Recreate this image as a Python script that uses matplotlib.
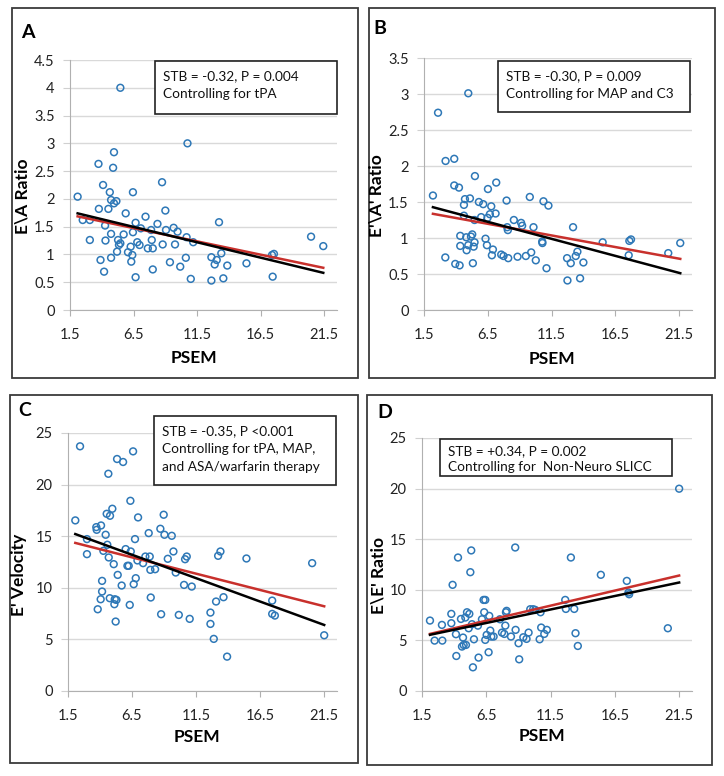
import numpy as np
import matplotlib.pyplot as plt
from matplotlib.patches import Rectangle

plt.rcParams['font.family'] = ['Lato', 'DejaVu Sans']

W, H = 724, 776

# ---- data ----
# A: E\A ratio
psem_a = [2.1, 2.5, 3.06, 3.06, 3.74, 3.77, 3.9, 4.1, 4.18, 4.26, 4.29, 4.52, 4.63, 4.73,
          4.73, 4.73, 4.89, 4.96, 4.96, 5.15, 5.2, 5.28, 5.35, 5.46, 5.46, 5.72, 5.88, 6.06,
          6.27, 6.32, 6.4, 6.45, 6.45, 6.66, 6.66, 6.79, 6.97, 7.07, 7.44, 7.62, 7.88, 7.93,
          8.01, 8.01, 8.38, 8.74, 8.79, 9.0, 9.05, 9.36, 9.65, 9.76, 9.96, 10.17, 10.61,
          10.67, 10.74, 11.0, 11.19, 12.62, 12.62, 12.88, 13.04, 13.22, 13.4, 13.56, 13.87,
          15.38, 17.39, 17.54, 17.44, 20.46, 21.42]
ea_ratio = [2.04, 1.62, 1.62, 1.26, 2.63, 1.82, 0.90, 2.25, 0.69, 1.52, 1.25, 1.82, 2.12, 1.98,
            1.37, 0.94, 2.56, 2.84, 1.92, 1.96, 1.05, 1.26, 1.17, 4.0, 1.2, 1.36, 1.74, 1.04,
            1.14, 0.87, 0.99, 2.12, 1.40, 1.57, 0.59, 1.22, 1.17, 1.47, 1.68, 1.11, 1.44, 1.26,
            1.11, 0.73, 1.55, 2.30, 1.18, 1.79, 1.44, 0.86, 1.48, 1.18, 1.41, 0.78, 0.94,
            1.31, 3.0, 0.56, 1.22, 0.95, 0.53, 0.82, 0.90, 1.58, 1.02, 0.57, 0.80,
            0.84, 0.99, 1.01, 0.60, 1.32, 1.15]

# B: E'\A' ratio
psem_b = [2.2, 2.6, 3.17, 3.19, 3.87, 3.87, 3.95, 4.24, 4.29, 4.34, 4.34, 4.63, 4.63, 4.71,
          4.81, 4.84, 4.97, 4.97, 5.1, 5.18, 5.28, 5.33, 5.39, 5.46, 5.46, 5.49, 5.8, 5.98,
          6.14, 6.32, 6.43, 6.48, 6.51, 6.66, 6.77, 6.82, 6.9, 7.11, 7.16, 7.55, 7.73, 7.97,
          8.02, 8.07, 8.1, 8.54, 8.83, 9.11, 9.19, 9.48, 9.79, 9.9, 10.08, 10.26, 10.76,
          10.78, 10.86, 11.1, 11.25, 12.71, 12.74, 13.0, 13.18, 13.39, 13.52, 13.73, 13.99,
          15.5, 17.54, 17.59, 17.72, 20.64, 21.58]
eaa_ratio = [1.59, 2.74, 0.73, 2.07, 2.10, 1.73, 0.64, 1.70, 0.62, 1.03, 0.89, 1.31, 1.46, 1.54,
             1.01, 0.83, 3.01, 0.90, 1.55, 1.02, 1.05, 0.65, 0.88, 0.94, 1.25, 1.86, 1.50, 1.29,
             1.47, 0.99, 0.90, 1.28, 1.68, 1.33, 1.44, 0.76, 0.84, 1.34, 1.77, 0.77, 0.75, 1.52,
             1.15, 1.11, 0.72, 1.25, 0.74, 1.21, 1.17, 0.75, 1.57, 0.80, 1.15, 0.69, 0.95,
             0.93, 1.51, 0.58, 1.45, 0.72, 0.41, 0.65, 1.15, 0.75, 0.81, 0.44, 0.66,
             0.94, 0.76, 0.96, 0.98, 0.79, 0.93]

# C: E' velocity
psem_c = [2.07, 2.44, 2.98, 2.98, 3.71, 3.74, 3.82, 4.08, 4.16, 4.16, 4.05, 4.26, 4.44, 4.52,
          4.57, 4.65, 4.68, 4.76, 4.78, 4.96, 5.07, 5.12, 5.15, 5.22, 5.28, 5.33, 5.38, 5.69,
          5.8, 6.0, 6.14, 6.24, 6.32, 6.37, 6.4, 6.58, 6.63, 6.73, 6.79, 6.92, 6.97, 7.36,
          7.54, 7.8, 7.88, 7.93, 7.96, 8.3, 8.71, 8.77, 8.97, 9.03, 9.29, 9.6, 9.73, 9.91,
          10.15, 10.56, 10.64, 10.77, 11.0, 11.16, 12.62, 12.62, 12.88, 13.06, 13.22, 13.4,
          13.64, 13.92, 15.43, 17.44, 17.44, 17.65, 20.56, 21.5]
e_velocity = [16.53, 23.71, 14.72, 13.26, 15.88, 15.62, 7.92, 16.04, 10.67, 9.64, 8.89, 13.58,
              15.14, 17.17, 14.17, 21.05, 12.94, 8.99, 16.98, 17.66, 12.29, 8.41, 8.89, 6.73,
              8.83, 22.48, 11.25, 10.22, 22.19, 13.75, 12.13, 12.13, 8.34, 18.43, 13.52, 23.22,
              10.35, 14.72, 10.93, 12.65, 16.82, 12.39, 13.03, 15.3, 13.03, 11.74, 9.06, 11.8,
              15.72, 7.44, 17.08, 15.14, 12.81, 15.04, 13.52, 11.48, 7.37, 10.28, 12.77, 13.03,
              6.99, 10.12, 7.6, 6.5, 5.05, 8.67, 13.1, 13.52, 9.09, 3.33, 12.84, 8.76, 7.47,
              7.31, 12.39, 5.4]

# D: E\E' ratio
psem_d = [2.12, 2.48, 3.05, 3.08, 3.78, 3.78, 3.88, 4.14, 4.17, 4.3, 4.53, 4.61, 4.69, 4.74,
          4.87, 4.92, 5.0, 5.13, 5.18, 5.26, 5.33, 5.39, 5.46, 5.54, 5.85, 5.9, 6.16, 6.29,
          6.42, 6.34, 6.42, 6.53, 6.68, 6.73, 6.81, 6.89, 7.07, 7.56, 7.72, 7.9, 7.98, 8.03,
          8.08, 8.42, 8.75, 8.78, 9.01, 9.06, 9.38, 9.63, 9.79, 9.92, 10.15, 10.31, 10.65,
          10.72, 10.77, 11.01, 11.21, 12.64, 12.69, 13.08, 13.34, 13.44, 13.62, 15.41, 17.43,
          17.56, 17.61, 20.62, 21.5]
ee_ratio = [6.96, 4.98, 6.53, 4.98, 7.62, 6.70, 10.49, 5.61, 3.46, 13.19, 7.12, 4.39, 5.28, 4.55,
            7.26, 4.55, 7.78, 6.2, 7.62, 11.74, 13.89, 6.6, 2.34, 5.11, 6.46, 3.3, 7.09, 9.0,
            9.0, 7.78, 5.05, 5.54, 3.83, 7.42, 5.97, 5.38, 5.38, 7.09, 5.77, 5.64, 6.46, 7.78,
            7.92, 5.38, 14.18, 6.04, 4.72, 3.13, 5.31, 5.15, 5.77, 8.08, 8.08, 8.01, 5.11,
            7.78, 6.27, 5.64, 6.04, 9.0, 8.11, 13.19, 8.11, 5.71, 4.45, 11.48, 10.88,
            9.73, 9.56, 6.2, 19.99]

# fitted lines (intercept, slope): black = simple trend, red = adjusted
fit_black = {'A': (1.856, -0.0554), 'B': (1.532, -0.0473), 'C': (16.146, -0.4533), 'D': (4.988, 0.2666)}
fit_red = {'A': (1.786, -0.0479), 'B': (1.407, -0.0323), 'C': (15.003, -0.316), 'D': (5.009, 0.2977)}

notes = {
    'A': ['STB = -0.32, P = 0.004', 'Controlling for tPA'],
    'B': ['STB = -0.30, P = 0.009', 'Controlling for MAP and C3'],
    'C': ['STB = -0.35, P <0.001', 'Controlling for tPA, MAP,', 'and ASA/warfarin therapy'],
    'D': ['STB = +0.34, P = 0.002', 'Controlling for  Non-Neuro SLICC'],
}
ylabels = {'A': 'E\\A Ratio', 'B': "E'\\A' Ratio", 'C': "E' Velocity", 'D': "E\\E' Ratio"}
xticks = [1.5, 6.5, 11.5, 16.5, 21.5]
yticks = {'A': [0, 0.5, 1, 1.5, 2, 2.5, 3, 3.5, 4, 4.5],
          'B': [0, 0.5, 1, 1.5, 2, 2.5, 3, 3.5],
          'C': [0, 5, 10, 15, 20, 25],
          'D': [0, 5, 10, 15, 20, 25]}
series = {'A': (psem_a, ea_ratio), 'B': (psem_b, eaa_ratio),
          'C': (psem_c, e_velocity), 'D': (psem_d, ee_ratio)}

# ---- layout in pixels (left, top, right, bottom) ----
axes_px = {'A': (70, 60, 337, 310), 'B': (424, 58, 692, 310),
           'C': (68, 433, 337, 691), 'D': (422, 438, 692, 691)}
frame_px = {'A': (12, 8, 358, 378), 'B': (369, 8, 715, 378),
            'C': (10, 395, 358, 763), 'D': (367, 395, 712, 765)}
note_px = {'A': (155, 61, 337, 114), 'B': (498, 61, 690, 112),
           'C': (154, 416, 336, 485), 'D': (440, 439, 672, 476)}
note_lines_y = {'A': [76, 94], 'B': [76, 94], 'C': [431, 449, 467], 'D': [451, 467]}
letter_px = {'A': (28, 32), 'B': (380, 29), 'C': (25, 411), 'D': (385, 412)}
ylab_px = {'A': (22, 196), 'B': (377, 196), 'C': (19, 575), 'D': (378, 575)}
xlab_px = {'A': (194, 358), 'B': (552, 359), 'C': (197, 737), 'D': (542, 736)}


def fig_rect(l, t, r, b):
    return [l / W, 1 - b / H, (r - l) / W, (b - t) / H]


fig = plt.figure(figsize=(W / 100, H / 100), dpi=100)
fig.patch.set_facecolor('white')

for key in ['A', 'B', 'C', 'D']:
    l, t, r, b = frame_px[key]
    fig.patches.append(Rectangle((l / W, 1 - b / H), (r - l) / W, (b - t) / H,
                                 transform=fig.transFigure, fill=False,
                                 edgecolor='#3a3a3a', linewidth=1.3))

    ax = fig.add_axes(fig_rect(*axes_px[key]))
    x, y = series[key]
    ax.scatter(x, y, s=24, facecolors='none', edgecolors='#2e78b7', linewidths=1.1, zorder=3)

    xs = np.array([min(x), max(x)])
    b0, b1 = fit_red[key]
    ax.plot(xs, b0 + b1 * xs, color='#c8302c', linewidth=1.8, zorder=4)
    b0, b1 = fit_black[key]
    ax.plot(xs, b0 + b1 * xs, color='black', linewidth=1.8, zorder=5)

    ax.set_xlim(1.5, 22.5)
    ax.set_ylim(yticks[key][0], yticks[key][-1])
    ax.set_xticks(xticks)
    ax.set_xticklabels([f'{v:g}' for v in xticks])
    ax.set_yticks(yticks[key])
    ax.set_yticklabels([f'{v:g}' for v in yticks[key]])
    ax.yaxis.grid(True, color='#d9d9d9', linewidth=1)
    ax.set_axisbelow(True)
    for s in ['top', 'right']:
        ax.spines[s].set_visible(False)
    for s in ['left', 'bottom']:
        ax.spines[s].set_color('#b0b0b0')
    ax.tick_params(axis='x', length=4, color='#b0b0b0', pad=9, labelsize=10.5, labelcolor='#222222')
    ax.tick_params(axis='y', length=5, color='#d0d0d0', pad=6, labelsize=10.5, labelcolor='#222222')

    # annotation box
    l, t, r, b = note_px[key]
    fig.patches.append(Rectangle((l / W, 1 - b / H), (r - l) / W, (b - t) / H,
                                 transform=fig.transFigure, facecolor='white',
                                 edgecolor='#222222', linewidth=1.2, zorder=6))
    for line, yy in zip(notes[key], note_lines_y[key]):
        fig.text((l + 8) / W, 1 - yy / H, line, fontsize=9.8, va='center', ha='left',
                 color='#111111', zorder=7)

    lx, ly = letter_px[key]
    fig.text(lx / W, 1 - ly / H, key, fontsize=14, fontweight='bold', ha='center', va='center')
    yx, yy = ylab_px[key]
    fig.text(yx / W, 1 - yy / H, ylabels[key], fontsize=12.5, fontweight='bold',
             rotation=90, ha='center', va='center')
    xx, xy = xlab_px[key]
    fig.text(xx / W, 1 - xy / H, 'PSEM', fontsize=12.5, fontweight='bold', ha='center', va='center')

fig.savefig('out.png', dpi=100)
